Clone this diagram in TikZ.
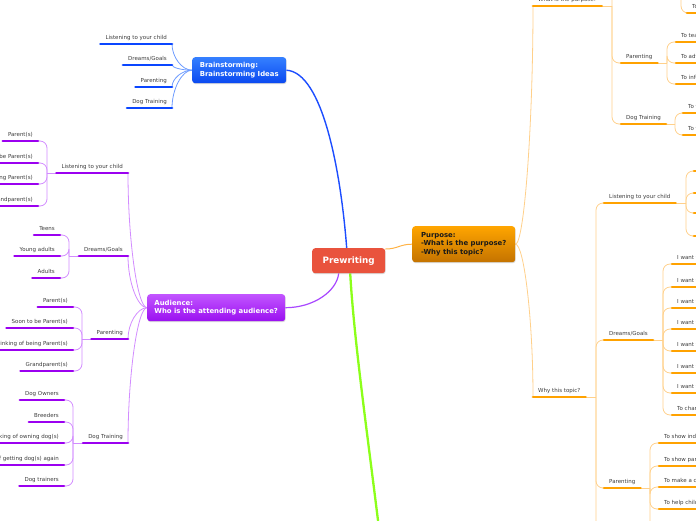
\documentclass[tikz,border=0pt]{standalone}
\usepackage{fontspec}
\setmainfont{DejaVu Sans}
\usetikzlibrary{calc,shadows,backgrounds}
\definecolor{leafgray}{HTML}{3C3C3C}
\definecolor{ublue}{HTML}{0A46FF}
\definecolor{lblue}{HTML}{6E9CFF}
\definecolor{cblue}{HTML}{1C4DFF}
\definecolor{upurple}{HTML}{9B00F0}
\definecolor{lpurple}{HTML}{D28CFF}
\definecolor{cpurple}{HTML}{A847FF}
\definecolor{uorange}{HTML}{FFA200}
\definecolor{lorange}{HTML}{FFD08A}
\definecolor{corange}{HTML}{FFB347}
\definecolor{cgreen}{HTML}{8CFF1A}
\definecolor{prered}{HTML}{E9533D}
\definecolor{bT}{HTML}{3580FF}
\definecolor{bB}{HTML}{0A48F0}
\definecolor{pT}{HTML}{C255FF}
\definecolor{pB}{HTML}{9A10F0}
\definecolor{oT}{HTML}{FFA500}
\definecolor{oB}{HTML}{C47300}
\begin{document}
\begin{tikzpicture}[x=1pt,y=-1pt,
  leaf/.style={font=\fontsize{5.5}{6.6}\selectfont, text=leafgray,
    inner xsep=5pt, inner ysep=4.5pt, text height=4pt, text depth=0pt,
    append after command={(\tikzlastnode.south west) edge[line width=2.8pt, line cap=round, draw=#1] (\tikzlastnode.south east)}},
  lL/.style={leaf=#1, anchor=south east},
  lR/.style={leaf=#1, anchor=south west},
  box/.style={rounded corners=3pt, align=left,
    font=\bfseries\fontsize{6.9}{8.6}\selectfont, text=white,
    inner xsep=7pt, inner ysep=2pt, anchor=north west,
    drop shadow={shadow xshift=0.5pt, shadow yshift=-1pt, opacity=0.3}},
  hs/.style={to path={.. controls ($(\tikztostart)!0.5!(\tikztotarget |- \tikztostart)$) and ($(\tikztostart -| \tikztotarget)!0.5!(\tikztotarget)$) .. (\tikztotarget)}},
  thB/.style={draw=lblue, line width=0.8pt},
  thP/.style={draw=lpurple, line width=0.8pt},
  thO/.style={draw=lorange, line width=0.8pt},
  br/.style={rounded corners=7pt}
]
\useasboundingbox (0,0) rectangle (696,520);

% ---------- main boxes ----------
\node[box, fill=prered, minimum width=73pt, minimum height=25pt,
  font=\bfseries\fontsize{8.8}{10}\selectfont, inner xsep=10pt] (pre) at (312,248) {Prewriting};
\node[box, top color=bT, bottom color=bB, minimum width=94pt, minimum height=26pt] (brain) at (192,57) {Brainstorming:\\Brainstorming Ideas};
\node[box, top color=pT, bottom color=pB, minimum width=138pt, minimum height=27pt] (aud) at (147,294) {Audience:\\Who is the attending audience?};
\node[box, top color=oT, bottom color=oB, text=black!90, minimum width=103pt, minimum height=36pt, inner xsep=8pt] (purpose) at (412,226) {Purpose:\\-What is the purpose?\\-Why this topic?};
\coordinate (gend) at (381,545);

% ---------- brainstorming leaves ----------
\node[lL=ublue] (b1) at (172,44) {Listening to your child};
\node[lL=ublue] (b2) at (172,65) {Dreams/Goals};
\node[lL=ublue] (b3) at (172,87) {Parenting};
\node[lL=ublue] (b4) at (172,108) {Dog Training};

% ---------- audience ----------
\node[lL=upurple] (a1) at (128,173) {Listening to your child};
\node[lL=upurple] (a2) at (128,256) {Dreams/Goals};
\node[lL=upurple] (a3) at (128,339) {Parenting};
\node[lL=upurple] (a4) at (128,443) {Dog Training};
\coordinate (a1b) at (47,173);
\coordinate (a2b) at (69,256);
\coordinate (a3b) at (82,339);
\coordinate (a4b) at (73,443);

\node[lL=upurple] (a1k1) at (38,141) {Parent(s)};
\node[lL=upurple] (a1k2) at (38,163) {Soon to be Parent(s)};
\node[lL=upurple] (a1k3) at (38,184) {Thinking of being Parent(s)};
\node[lL=upurple] (a1k4) at (38,206) {Grandparent(s)};

\node[lL=upurple] (a2k1) at (60,235) {Teens};
\node[lL=upurple] (a2k2) at (60,256) {Young adults};
\node[lL=upurple] (a2k3) at (60,278) {Adults};

\node[lL=upurple] (a3k1) at (73,307) {Parent(s)};
\node[lL=upurple] (a3k2) at (73,328) {Soon to be Parent(s)};
\node[lL=upurple] (a3k3) at (73,350) {Thinking of being Parent(s)};
\node[lL=upurple] (a3k4) at (73,371) {Grandparent(s)};

\node[lL=upurple] (a4k1) at (64,400) {Dog Owners};
\node[lL=upurple] (a4k2) at (64,422) {Breeders};
\node[lL=upurple] (a4k3) at (64,443) {Thinking of owning dog(s)};
\node[lL=upurple] (a4k4) at (64,465) {Thinking of getting dog(s) again};
\node[lL=upurple] (a4k5) at (64,486) {Dog trainers};

% ---------- purpose ----------
\node[lR=uorange] (what) at (533,6) {What is the purpose?};
\node[lR=uorange] (why) at (533,397) {Why this topic?};
\coordinate (wb) at (612,6);
\coordinate (wh) at (621,-50);
\node[lR=uorange] (wpar) at (621,63) {Parenting};
\node[lR=uorange] (wdog) at (621,124) {Dog Training};
\coordinate (tb) at (681,-30);
\node[lR=uorange] (wt) at (687,13) {To listen};
\coordinate (wparb) at (667,63);
\node[lR=uorange] (wp1) at (676,42) {To teach};
\node[lR=uorange] (wp2) at (676,63) {To advise};
\node[lR=uorange] (wp3) at (676,84) {To inform};
\coordinate (wdogb) at (675,124);
\node[lR=uorange] (wd1) at (683,113) {To train};
\node[lR=uorange] (wd2) at (683,135) {To teach};

\coordinate (yb) at (596,397);
\coordinate (yh) at (604,575);
\node[lR=uorange] (ylis) at (604,203) {Listening to your child};
\node[lR=uorange] (ydr) at (604,340) {Dreams/Goals};
\node[lR=uorange] (ypar) at (604,488) {Parenting};

\coordinate (ylisb) at (686,203);
\node[lR=uorange] (yl1) at (694,171) {To listen};
\node[lR=uorange] (yl2) at (694,193) {To hear};
\node[lR=uorange] (yl3) at (694,213) {To talk};
\node[lR=uorange] (yl4) at (694,236) {To learn};

\coordinate (ydrb) at (663,340);
\node[lR=uorange] (yd1) at (672,264) {I want to};
\node[lR=uorange] (yd2) at (672,287) {I want to};
\node[lR=uorange] (yd3) at (672,308) {I want to};
\node[lR=uorange] (yd4) at (672,329) {I want to};
\node[lR=uorange] (yd5) at (672,351) {I want to};
\node[lR=uorange] (yd6) at (672,373) {I want to};
\node[lR=uorange] (yd7) at (672,393) {I want to};
\node[lR=uorange] (yd8) at (672,415) {To change};

\coordinate (yparb) at (650,488);
\coordinate (yph) at (659,535);
\node[lR=uorange] (yp1) at (659,443) {To show independence};
\node[lR=uorange] (yp2) at (659,466) {To show parenting};
\node[lR=uorange] (yp3) at (659,487) {To make a connection};
\node[lR=uorange] (yp4) at (659,509) {To help children};

% ---------- connectors ----------
\begin{scope}[on background layer]
\draw[cblue, line width=1.4pt] ([xshift=-2pt]pre.north) .. controls +(-6,-78) and +(36,2) .. (brain.east);
\draw[cpurple, line width=1.2pt] ([xshift=-10pt]pre.south) .. controls +(-2,18) and +(28,0) .. (aud.east);
\draw[corange, line width=1pt] ([yshift=-1pt]pre.north east) .. controls +(12,0) and +(-12,0) .. (purpose.west);
\draw[cgreen, line width=2.3pt] ([xshift=1.5pt]pre.south) .. controls +(4,70) and +(-12,-100) .. (gend);

\foreach \n in {b1,b2,b3,b4} \draw[thB] (brain.west) to[hs] (\n.south east);
\foreach \n in {a1,a2,a3,a4} \draw[thP] (aud.west) to[hs] (\n.south east);

\draw[thP] (a1.south west) -- (a1b);
\foreach \k in {1,2,3,4} \draw[thP, br] (a1b) |- (a1k\k.south east);
\draw[thP] (a2.south west) -- (a2b);
\foreach \k in {1,2,3} \draw[thP, br] (a2b) |- (a2k\k.south east);
\draw[thP] (a3.south west) -- (a3b);
\foreach \k in {1,2,3,4} \draw[thP, br] (a3b) |- (a3k\k.south east);
\draw[thP] (a4.south west) -- (a4b);
\foreach \k in {1,2,3,4,5} \draw[thP, br] (a4b) |- (a4k\k.south east);

\draw[thO] (purpose.east) to[hs] (what.south west);
\draw[thO] (purpose.east) to[hs] (why.south west);

\draw[thO] (what.south east) -- (wb);
\draw[thO, br] (wb) |- (wh);
\draw[thO, br] (wb) |- (wpar.south west);
\draw[thO, br] (wb) |- (wdog.south west);
\draw[thO, br] (tb) |- (wt.south west);
\draw[thO] (wpar.south east) -- (wparb);
\foreach \k in {1,2,3} \draw[thO, br] (wparb) |- (wp\k.south west);
\draw[thO] (wdog.south east) -- (wdogb);
\foreach \k in {1,2} \draw[thO, br] (wdogb) |- (wd\k.south west);

\draw[thO] (why.south east) -- (yb);
\draw[thO, br] (yb) |- (ylis.south west);
\draw[thO, br] (yb) |- (ydr.south west);
\draw[thO, br] (yb) |- (ypar.south west);
\draw[thO, br] (yb) |- (yh);

\draw[thO] (ylis.south east) -- (ylisb);
\foreach \k in {1,2,3,4} \draw[thO, br] (ylisb) |- (yl\k.south west);
\draw[thO] (ydr.south east) -- (ydrb);
\foreach \k in {1,...,8} \draw[thO, br] (ydrb) |- (yd\k.south west);
\draw[thO] (ypar.south east) -- (yparb);
\foreach \k in {1,2,3,4} \draw[thO, br] (yparb) |- (yp\k.south west);
\draw[thO, br] (yparb) |- (yph);
\end{scope}
\end{tikzpicture}
\end{document}
